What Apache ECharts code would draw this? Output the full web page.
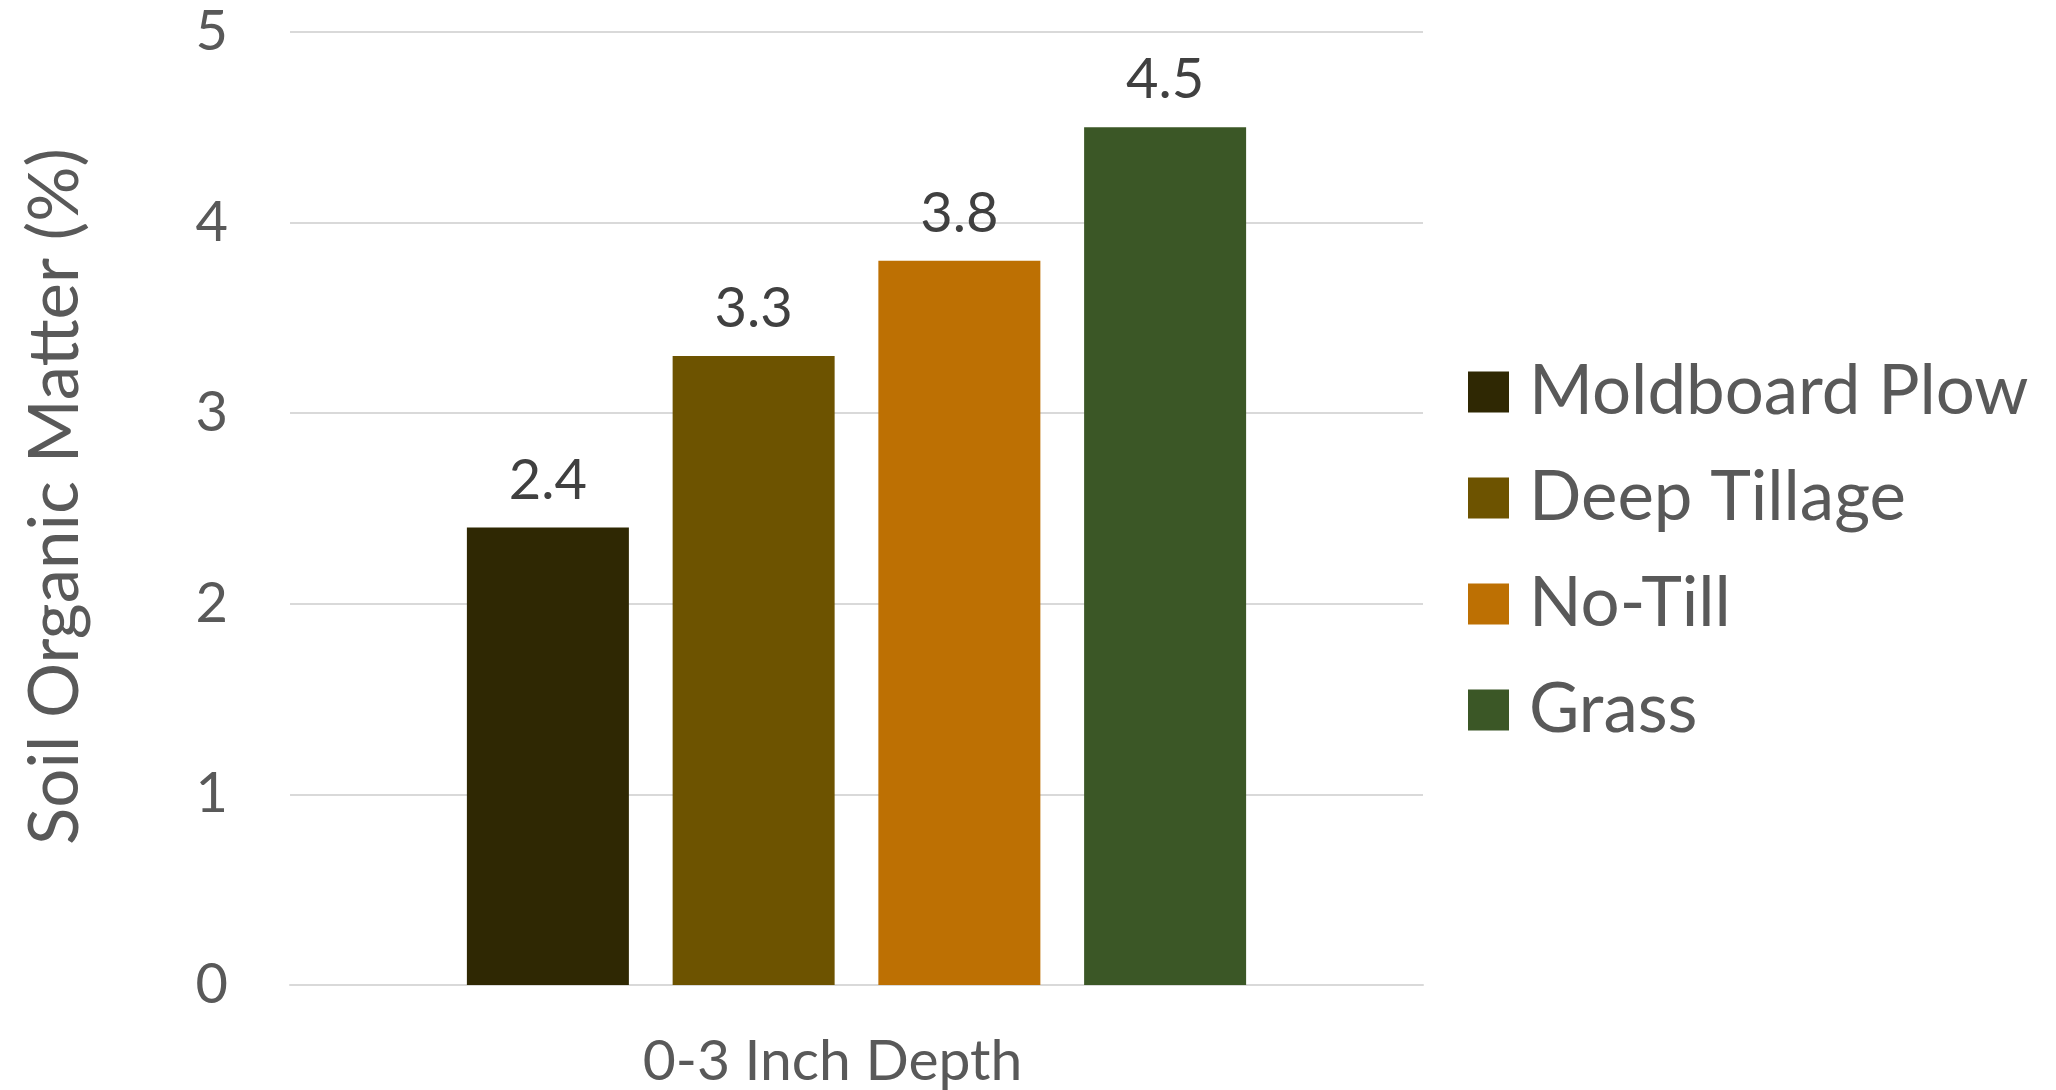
<!DOCTYPE html>
<html>
<head>
<meta charset="utf-8">
<script src="https://cdn.jsdelivr.net/npm/echarts@6/dist/echarts.min.js"></script>
<style>
  html, body { margin: 0; padding: 0; background: #fff; }
  #chart { width: 2056px; height: 1090px; }
</style>
</head>
<body>
<div id="chart"></div>
<script>
// Soil organic matter at 0-3 inch depth by management practice
const categories = ['0-3 Inch Depth'];
const practiceNames = ['Moldboard Plow', 'Deep Tillage', 'No-Till', 'Grass'];
const moldboardPlow = [2.4];
const deepTillage = [3.3];
const noTill = [3.8];
const grass = [4.5];
const practiceColors = ['#2F2803', '#6D5300', '#BD7003', '#3B5726'];
const yTicks = { min: 0, max: 5, interval: 1 };

const seriesValues = [moldboardPlow, deepTillage, noTill, grass];
const FONT = 'Lato, "Noto Sans", sans-serif';

const chart = echarts.init(document.getElementById('chart'));
chart.setOption({
  animation: false,
  grid: { left: 290, right: 633, top: 32, bottom: 104 },
  legend: {
    orient: 'vertical',
    left: 1468,
    top: 357,
    padding: 0,
    itemWidth: 41,
    itemHeight: 41,
    itemGap: 36,
    icon: 'rect',
    textStyle: { fontFamily: FONT, fontSize: 69, color: '#595959', lineHeight: 70, padding: [0, 0, 0, 15] },
    data: practiceNames
  },
  xAxis: {
    type: 'category',
    data: categories,
    axisLine: { show: true, lineStyle: { color: '#D9D9D9', width: 2 } },
    axisTick: { show: false },
    axisLabel: { fontFamily: FONT, fontSize: 57, color: '#595959', margin: 48, padding: [0, 48, 0, 0] }
  },
  yAxis: {
    type: 'value',
    min: yTicks.min,
    max: yTicks.max,
    interval: yTicks.interval,
    name: 'Soil Organic Matter (%)',
    nameLocation: 'middle',
    nameGap: 200,
    nameTextStyle: { fontFamily: FONT, fontSize: 69, color: '#595959', padding: [0, 0, 0, 24] },
    axisLine: { show: false },
    axisTick: { show: false },
    axisLabel: { fontFamily: FONT, fontSize: 56, color: '#595959', margin: 62 },
    splitLine: { lineStyle: { color: '#D9D9D9', width: 2 } }
  },
  series: practiceNames.map((name, i) => ({
    name,
    type: 'bar',
    data: seriesValues[i],
    barWidth: 162,
    barGap: '27%',
    itemStyle: { color: practiceColors[i] },
    label: {
      show: true,
      position: 'top',
      distance: 19,
      formatter: '{c}',
      fontFamily: FONT,
      fontSize: 56,
      color: '#404040'
    }
  }))
});
</script>
</body>
</html>
